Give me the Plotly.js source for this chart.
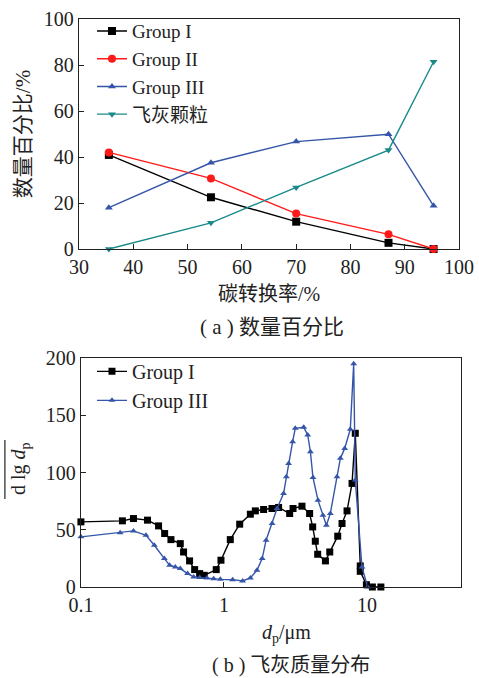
<!DOCTYPE html>
<html>
<head>
<meta charset="utf-8">
<script src="https://cdn.plot.ly/plotly-3.0.1.min.js"></script>
<style>html,body{margin:0;padding:0;background:#fff;}#chart{width:479px;height:678px;}</style>
</head>
<body>
<div id="chart"></div>
<script>
// ---- (a) number percentage vs carbon conversion ----
const conversion = [35.5, 54.3, 70.0, 87.0, 95.3];
const groupI_pct = [40.9, 22.5, 11.9, 2.7, 0];
const groupII_pct = [42.0, 30.7, 15.4, 6.4, 0];
const groupIII_pct = [18.0, 37.5, 46.7, 49.9, 18.8];
const flyash_pct = [0, 11.4, 26.8, 43.0, 81.4];
const seriesNamesA = ["Group I", "Group II", "Group III", "飞灰颗粒"];

// ---- (b) fly ash mass distribution ----
const dpGroupI = [0.1, 0.195, 0.233, 0.292, 0.349, 0.385, 0.426, 0.495, 0.522, 0.575, 0.624, 0.676, 0.728,
  0.883, 0.953, 1.107, 1.288, 1.529, 1.657, 1.893, 2.166, 2.41, 2.88, 3.04, 3.51, 3.97, 4.17, 4.35, 4.52,
  5.12, 5.49, 6.24, 6.69, 7.25, 7.86, 8.28, 8.97, 8.97, 9.9, 10.9, 12.5];
const massGroupI = [56.9, 57.8, 59.8, 58.4, 53.4, 46.7, 41.4, 37.9, 30.6, 22.8, 15.2, 11.7, 10.2,
  15.2, 23.4, 41.4, 54.9, 63.6, 66.5, 67.7, 68.6, 69.5, 64.2, 68.6, 70.6, 64.2, 52.5, 40.0, 28.6,
  22.8, 30.6, 44.4, 55.5, 66.5, 90.5, 134.3, 18.4, 13.7, 2.0, 0, 0];
const dpGroupIII = [0.1, 0.188, 0.233, 0.285, 0.326, 0.383, 0.417, 0.457, 0.495, 0.557, 0.614, 0.676, 0.761,
  0.847, 0.943, 1.15, 1.35, 1.53, 1.70, 1.85, 1.97, 2.17, 2.35, 2.61, 2.73, 2.83, 3.02, 3.15, 3.61, 3.85,
  4.02, 4.19, 4.54, 4.92, 5.20, 5.54, 6.17, 6.51, 6.98, 7.64, 8.07, 8.28, 9.22, 10.1];
const massGroupIII = [43.8, 47.3, 49.0, 45.2, 36.5, 24.8, 19.0, 17.5, 16.1, 11.7, 8.8, 8.2, 7.9,
  7.3, 6.7, 6.4, 5.3, 7.9, 14.6, 24.8, 40.9, 55.5, 68.6, 81.7, 96.3, 108.0, 127.0, 138.6, 139.5, 132.8,
  118.2, 95.7, 75.9, 62.8, 54.0, 64.2, 96.3, 112.4, 121.1, 137.8, 195.0, 93.4, 17.5, 0];
const seriesNamesB = ["Group I", "Group III"];

const xTicksB = [0.1, 1, 10];
const xTickTextB = ["0.1", "1", "10"];

const FONT = 'Liberation Serif, Times New Roman, Noto Sans CJK SC, serif';
const BLACK = '#000000', RED = '#ff1a1a', BLUE = '#3555a8', TEAL = '#1a8a8a';

function tr(x, y, name, color, symbol, size, xa, ya, legend) {
  return {
    x: x, y: y, name: name, type: 'scatter', mode: 'lines+markers',
    line: {color: color, width: 1.4},
    marker: {color: color, symbol: symbol, size: size},
    xaxis: xa, yaxis: ya, legend: legend, cliponaxis: false
  };
}

const data = [
  tr(conversion, groupI_pct, seriesNamesA[0], BLACK, 'square', 8, 'x', 'y', 'legend'),
  tr(conversion, groupII_pct, seriesNamesA[1], RED, 'circle', 8, 'x', 'y', 'legend'),
  tr(conversion, groupIII_pct, seriesNamesA[2], BLUE, 'triangle-up', 7, 'x', 'y', 'legend'),
  tr(conversion, flyash_pct, seriesNamesA[3], TEAL, 'triangle-down', 7, 'x', 'y', 'legend'),
  tr(dpGroupI, massGroupI, seriesNamesB[0], BLACK, 'square', 7, 'x2', 'y2', 'legend2'),
  tr(dpGroupIII, massGroupIII, seriesNamesB[1], BLUE, 'triangle-up', 6, 'x2', 'y2', 'legend2')
];

const axisBase = {
  showline: true, linecolor: '#222', linewidth: 1.2, mirror: true,
  ticks: 'inside', ticklen: 5, tickwidth: 1, tickcolor: '#222',
  showgrid: false, zeroline: false,
  tickfont: {family: FONT, size: 20, color: '#222'}
};

const layout = {
  width: 479, height: 678,
  margin: {l: 79, r: 18, t: 19, b: 91},
  paper_bgcolor: '#fff', plot_bgcolor: '#fff',
  font: {family: FONT, color: '#222'},
  showlegend: true,
  xaxis: Object.assign({}, axisBase, {
    domain: [0, 0.995], anchor: 'y', range: [30, 100], dtick: 10, tick0: 30,
    title: {text: '碳转换率/%', font: {family: FONT, size: 20, color: '#222'}, standoff: 9}
  }),
  yaxis: Object.assign({}, axisBase, {
    domain: [0.595, 1], anchor: 'x', range: [0, 100], dtick: 20,
    title: {text: '数量百分比/%', font: {family: FONT, size: 21, color: '#222'}, standoff: 7}
  }),
  xaxis2: Object.assign({}, axisBase, {
    domain: [0.005, 1], anchor: 'y2', type: 'log', range: [-1, 1.657],
    tickvals: xTicksB, ticktext: xTickTextB
  }),
  yaxis2: Object.assign({}, axisBase, {
    domain: [0, 0.403], anchor: 'x2', range: [0, 200], dtick: 50
  }),
  legend: {
    x: 0.034, y: 1.012, xanchor: 'left', yanchor: 'top',
    bgcolor: 'rgba(0,0,0,0)', borderwidth: 0,
    font: {family: FONT, size: 19, color: '#222'}, itemwidth: 30, tracegroupgap: 0
  },
  legend2: {
    x: 0.034, y: 0.414, xanchor: 'left', yanchor: 'top',
    bgcolor: 'rgba(0,0,0,0)', borderwidth: 0,
    font: {family: FONT, size: 20, color: '#222'}, itemwidth: 30
  },
  annotations: [
    {text: '( a ) 数量百分比', xref: 'paper', yref: 'paper', x: 0.505, y: 0.458,
     xanchor: 'center', yanchor: 'middle', showarrow: false, font: {family: FONT, size: 21, color: '#222'}},
    {text: '<i>d</i><sub>p</sub>/μm', xref: 'paper', yref: 'paper', x: 0.542, y: -0.081,
     xanchor: 'center', yanchor: 'middle', showarrow: false, font: {family: FONT, size: 20, color: '#222'}},
    {text: '( b ) 飞灰质量分布', xref: 'paper', yref: 'paper', x: 0.555, y: -0.139,
     xanchor: 'center', yanchor: 'middle', showarrow: false, font: {family: FONT, size: 20, color: '#222'}},
    {text: 'd lg <i>d</i><sub>p</sub>', xref: 'paper', yref: 'paper', x: -0.154, y: 0.208, textangle: -90,
     xanchor: 'center', yanchor: 'middle', showarrow: false, font: {family: FONT, size: 20, color: '#222'}}
  ],
  shapes: [
    {type: 'line', xref: 'paper', yref: 'paper', x0: -0.194, x1: -0.194, y0: 0.155, y1: 0.259,
     line: {color: '#222', width: 1.2}}
  ]
};

Plotly.newPlot('chart', data, layout, {displayModeBar: false, staticPlot: true});
</script>
</body>
</html>
